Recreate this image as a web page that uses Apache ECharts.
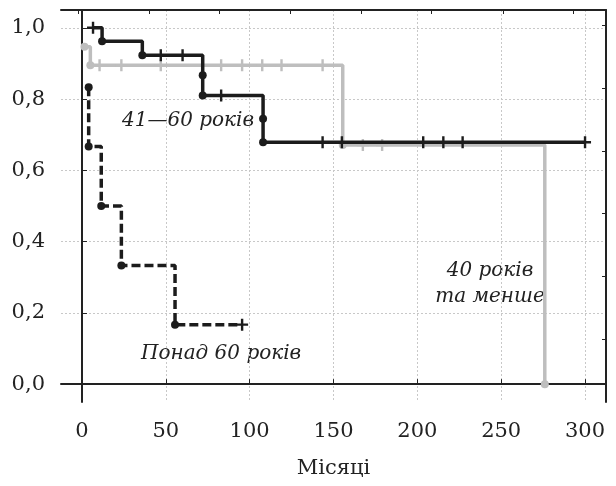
<!DOCTYPE html>
<html>
<head>
<meta charset="utf-8">
<script src="https://cdn.jsdelivr.net/npm/echarts@6/dist/echarts.min.js"></script>
<style>
  html, body { margin: 0; padding: 0; background: #fff; }
  #main { width: 616px; height: 486px; }
</style>
</head>
<body>
<div id="main"></div>
<script>
// axis ticks
const xTicks = [0, 50, 100, 150, 200, 250, 300];
const yTicks = [0, 0.2, 0.4, 0.6, 0.8, 1.0];
// small mirror ticks on the top / right side of the frame
const topTicks = [-2, 40, 82, 124.5, 166.5, 208.5, 251, 293];
const rightTicks = [1.007, 0.831, 0.655, 0.479, 0.302, 0.127];

// 41—60 років
const midEventTimes = [12, 36, 72, 72, 108, 108];
const midSurv = [0.962, 0.923, 0.867, 0.81, 0.745, 0.679];
const midCensorTimes = [6.6, 47, 60, 83, 143.5, 155, 203.5, 215.5, 227, 300];

// 40 років та менше
const youngEventTimes = [1.5, 5, 155.5, 276];
const youngSurv = [0.947, 0.895, 0.671, 0];
const youngCensorTimes = [10.5, 23.5, 47, 83, 95.5, 107.5, 119, 143.5, 167.5, 179];

// Понад 60 років
const oldEventTimes = [4, 4, 11.5, 23.5, 55.5];
const oldSurv = [0.833, 0.667, 0.5, 0.333, 0.167];
const oldCensorTimes = [95.5];

const BLACK = "#1c1c1c";
const GRAY = "#bebebe";
const FONT = "DejaVu Serif";
const PLUS = "path://M4,0h2v4h4v2h-4v4h-2v-4h-4v-2h4z";

// survival value at time t (step function)
function survAt(times, surv, t) {
  let s = 1;
  for (let i = 0; i < times.length; i++) {
    if (times[i] <= t) s = surv[i];
  }
  return s;
}

function curvePoints(times, surv, cens) {
  let pts = [];
  if (cens[0] < times[0]) pts.push([cens[0], 1]);
  times.forEach((t, i) => pts.push([t, surv[i]]));
  let lastT = times[times.length - 1];
  let end = Math.max(lastT, cens[cens.length - 1]);
  if (end > lastT) pts.push([end, surv[surv.length - 1]]);
  return pts;
}

function groupSeries(times, surv, cens, color, dashed, z) {
  return [
    {
      type: "line",
      step: "end",
      showSymbol: false,
      data: curvePoints(times, surv, cens),
      lineStyle: { color: color, width: 3.5, type: dashed ? [9, 4] : "solid" },
      z: z,
      silent: true,
    },
    {
      type: "scatter",
      symbol: "circle",
      symbolSize: 8,
      data: times.map((t, i) => [t, surv[i]]),
      itemStyle: { color: color, opacity: 1 },
      z: z + 1,
    },
    {
      type: "scatter",
      symbol: PLUS,
      symbolSize: 12,
      data: cens.map((t) => [t, survAt(times, surv, t)]),
      itemStyle: { color: color, opacity: 1 },
      z: z + 1,
    },
  ];
}

let myChart = echarts.init(document.getElementById("main"));
let option = {
  backgroundColor: "#fff",
  animation: false,
  grid: {
    left: 61,
    right: 10,
    top: 10,
    bottom: 84,
    containLabel: false,
    outerBoundsMode: "none",
  },
  xAxis: [
    {
      type: "value",
      position: "bottom",
      min: -12.5,
      max: 312.5,
      name: "Місяці",
      nameLocation: "middle",
      nameGap: 56,
      nameTextStyle: { fontFamily: FONT, fontSize: 21, color: "#222" },
      axisLine: { show: true, lineStyle: { color: "#222", width: 2 } },
      axisTick: { show: true, inside: true, length: 5, customValues: xTicks, lineStyle: { color: "#222" } },
      axisLabel: { customValues: xTicks, margin: 19, fontFamily: FONT, fontSize: 21, color: "#222" },
      splitLine: { show: true, lineStyle: { color: "#c8c8c8", type: [2, 2], width: 1 } },
    },
    {
      type: "value",
      position: "top",
      min: -12.5,
      max: 312.5,
      axisLine: { show: true, onZero: false, lineStyle: { color: "#222", width: 2 } },
      axisTick: { show: true, inside: true, length: 4, customValues: topTicks, lineStyle: { color: "#222" } },
      axisLabel: { show: false },
      splitLine: { show: false },
    },
  ],
  yAxis: [
    {
      type: "value",
      position: "left",
      min: -0.05,
      max: 1.05,
      axisLine: { show: true, lineStyle: { color: "#222", width: 2 } },
      axisTick: { show: true, inside: true, length: 5, customValues: yTicks, lineStyle: { color: "#222" } },
      axisLabel: {
        customValues: yTicks,
        margin: 16,
        fontFamily: FONT,
        fontSize: 21,
        color: "#222",
        formatter: (v) => v.toFixed(1).replace(".", ","),
      },
      splitLine: { show: true, lineStyle: { color: "#c8c8c8", type: [2, 2], width: 1 } },
    },
    {
      type: "value",
      position: "right",
      min: -0.05,
      max: 1.05,
      axisLine: { show: true, onZero: false, lineStyle: { color: "#222", width: 2 } },
      axisTick: { show: true, inside: true, length: 4, customValues: rightTicks, lineStyle: { color: "#222" } },
      axisLabel: { show: false },
      splitLine: { show: false },
    },
  ],
  series: [
    ...groupSeries(youngEventTimes, youngSurv, youngCensorTimes, GRAY, false, 2),
    ...groupSeries(midEventTimes, midSurv, midCensorTimes, BLACK, false, 4),
    ...groupSeries(oldEventTimes, oldSurv, oldCensorTimes, BLACK, true, 6),
  ],
  graphic: [
    {
      type: "text",
      x: 122,
      y: 121,
      style: { text: "41—60 років", font: 'italic 20px "DejaVu Serif"', fill: "#222", align: "left", verticalAlign: "middle" },
    },
    {
      type: "text",
      x: 490,
      y: 271,
      style: { text: "40 років", font: 'italic 20px "DejaVu Serif"', fill: "#222", align: "center", verticalAlign: "middle" },
    },
    {
      type: "text",
      x: 490,
      y: 297,
      style: { text: "та менше", font: 'italic 20px "DejaVu Serif"', fill: "#222", align: "center", verticalAlign: "middle" },
    },
    {
      type: "text",
      x: 141,
      y: 354,
      style: { text: "Понад 60 років", font: 'italic 20px "DejaVu Serif"', fill: "#222", align: "left", verticalAlign: "middle" },
    },
  ],
};
myChart.setOption(option);
</script>
</body>
</html>
